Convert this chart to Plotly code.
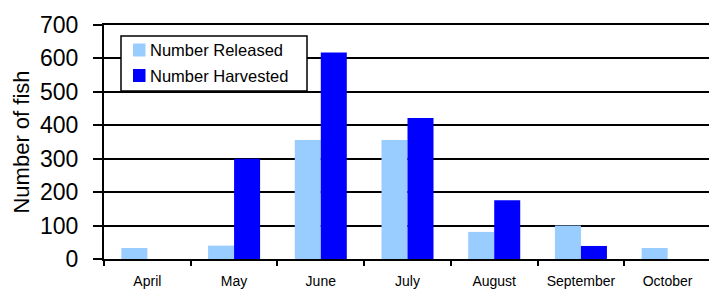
import plotly.graph_objects as go

months = ["April", "May", "June", "July", "August", "September", "October"]
released = [33, 40, 356, 356, 81, 100, 33]
harvested = [0, 300, 618, 422, 176, 39, 0]
y_ticks = [0, 100, 200, 300, 400, 500, 600, 700]
series_names = ["Number Released", "Number Harvested"]
series_colors = ["#99CCFF", "#0000FF"]

# page has an 8px body margin; figure coordinates are page coordinates minus 8
OFF = 8
W, H = 717 - OFF, 289 - OFF
L, R, T, B = 104 - OFF, 711 - OFF, 25 - OFF, 259 - OFF

fig = go.Figure()
for name, vals, col in zip(series_names, [released, harvested], series_colors):
    fig.add_trace(go.Bar(x=months, y=vals, name=name,
                         marker=dict(color=col, line=dict(width=0))))

def px(x):
    return (x - OFF - L) / (R - L)
def py(y):
    return (B - (y - OFF)) / (B - T)

shapes = [dict(type="rect", xref="paper", yref="paper",
               x0=px(121), x1=px(307), y0=py(91), y1=py(36),
               line=dict(color="black", width=1.5), fillcolor="white", layer="above")]
annots = []
for i, (name, col) in enumerate(zip(series_names, series_colors)):
    cy = 50 + i * 25.5
    shapes.append(dict(type="rect", xref="paper", yref="paper",
                       x0=px(133), x1=px(145.5), y0=py(cy + 6.5), y1=py(cy - 6.5),
                       line=dict(width=0), fillcolor=col, layer="above"))
    annots.append(dict(xref="paper", yref="paper", x=px(148), y=py(cy),
                       xanchor="left", yanchor="middle", showarrow=False,
                       text=name, font=dict(size=16.5, color="black")))

fig.update_layout(
    width=W, height=H,
    margin=dict(l=L, r=W - R, t=T, b=H - B, autoexpand=False),
    paper_bgcolor="white", plot_bgcolor="white",
    barmode="group", bargap=0.4, bargroupgap=0,
    font=dict(family="Liberation Sans, Arial, sans-serif", color="black"),
    showlegend=False,
    shapes=shapes, annotations=annots,
)
fig.update_xaxes(
    showline=True, linecolor="black", linewidth=2, mirror=True,
    ticks="outside", tickson="boundaries", ticklen=5, tickcolor="black", tickwidth=2,
    tickfont=dict(size=14), ticklabelstandoff=8, showgrid=False, automargin=False,
)
fig.update_yaxes(
    range=[0, 700], tickvals=y_ticks, showline=True, linecolor="black", linewidth=2, mirror=True,
    ticks="outside", ticklen=9, tickcolor="black", tickwidth=2,
    showgrid=True, gridcolor="black", gridwidth=1.5,
    tickfont=dict(size=23), ticklabelstandoff=10,
    title=dict(text="Number of fish", font=dict(size=22), standoff=4),
    zeroline=False, automargin=False,
)
fig.write_html("out.html")
